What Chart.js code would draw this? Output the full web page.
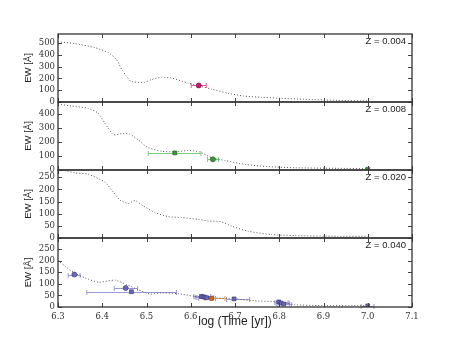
<!DOCTYPE html>
<html>
<head>
<meta charset="utf-8">
<script src="https://cdn.jsdelivr.net/npm/chart.js@4.4.1/dist/chart.umd.min.js"></script>
<style>
  html, body { margin: 0; padding: 0; background: #fff; }
  #wrap { position: relative; width: 457px; height: 343px; }
  #wrap canvas { position: absolute; left: 0; top: 0; }
</style>
</head>
<body>
<div id="wrap"></div>
<script>
// x axis (log age)
const xTicks = [6.3, 6.4, 6.5, 6.6, 6.7, 6.8, 6.9, 7.0, 7.1];

// model tracks, one per metallicity
const t004 = [6.30, 6.338, 6.383, 6.414, 6.432, 6.444, 6.455, 6.465, 6.495, 6.511, 6.534, 6.556, 6.594, 6.647, 6.684, 6.718, 6.759, 6.805, 6.857, 6.932, 7.0];
const ew004 = [509, 494, 460, 417, 360, 274, 217, 174, 166, 189, 209, 203, 160, 109, 74, 51, 40, 31, 23, 14, 9];

const t008 = [6.30, 6.331, 6.368, 6.391, 6.406, 6.425, 6.444, 6.462, 6.481, 6.502, 6.534, 6.564, 6.594, 6.62, 6.639, 6.65, 6.677, 6.722, 6.774, 6.835, 6.932, 7.0];
const ew008 = [470, 456, 440, 405, 334, 252, 259, 256, 216, 162, 134, 129, 139, 129, 99, 85, 68, 40, 24, 16, 12, 9];

const t020 = [6.315, 6.338, 6.368, 6.406, 6.425, 6.44, 6.459, 6.474, 6.492, 6.519, 6.549, 6.579, 6.617, 6.639, 6.669, 6.692, 6.729, 6.782, 6.835, 6.932, 7.0];
const ew020 = [278, 268, 263, 230, 189, 156, 142, 154, 133, 105, 88, 84, 77, 70, 67, 49, 28, 14, 10, 7, 7];

const t040 = [6.30, 6.316, 6.337, 6.361, 6.391, 6.429, 6.455, 6.481, 6.508, 6.534, 6.571, 6.609, 6.647, 6.699, 6.744, 6.799, 6.835, 6.895, 7.0];
const ew040 = [202, 176, 147, 126, 107, 116, 97, 75, 56, 61, 58, 46, 40, 35, 27, 22, 10, 6, 6];

// observed clusters: age, EW, age range
const obs004X = [6.618];
const obs004Y = [140];
const obs004Lo = [6.601];
const obs004Hi = [6.635];

const obs008SqX = [6.564, 7.0];
const obs008SqY = [122, 5];
const obs008SqLo = [6.504, 7.0];
const obs008SqHi = [6.623, 7.0];
const obs008CiX = [6.650];
const obs008CiY = [76];
const obs008CiLo = [6.638];
const obs008CiHi = [6.663];

const obs040CiX = [6.337, 6.453];
const obs040CiY = [140, 82];
const obs040CiLo = [6.323, 6.427];
const obs040CiHi = [6.350, 6.480];
const obs040SqX = [6.466, 6.624, 6.628, 6.632, 6.636, 6.698, 6.799, 6.804, 6.810, 7.0];
const obs040SqY = [66, 46, 44, 42, 40, 35, 22, 17, 13, 5];
const obs040SqLo = [6.365, 6.607, 6.610, 6.614, 6.618, 6.681, 6.790, 6.793, 6.797, 6.985];
const obs040SqHi = [6.568, 6.645, 6.648, 6.652, 6.656, 6.733, 6.820, 6.823, 6.827, 7.014];
const obs040OrX = [6.647];
const obs040OrY = [37];
const obs040OrLo = [6.632];
const obs040OrHi = [6.677];

const zLabels = ['Z = 0.004', 'Z = 0.008', 'Z = 0.020', 'Z = 0.040'];
const yMaxes = [575, 485, 280, 298];
const ySteps = [100, 100, 50, 50];

const panelEdges = [34, 102, 170, 238, 306];

const TICK_FONT = { family: '"DejaVu Serif", serif', size: 8.5 };
const wrap = document.getElementById('wrap');

function pts(xs, ys) {
    return xs.map((x, i) => ({ x: x, y: ys[i] }));
}

function track(xs, ys) {
    return {
        data: pts(xs, ys),
        showLine: true,
        pointRadius: 0,
        borderColor: '#555',
        borderWidth: 1,
        borderDash: [1, 2],
        tension: 0.2,
        order: 2
    };
}

function obs(xs, ys, lo, hi, style, fill, edge, err) {
    return {
        data: pts(xs, ys),
        showLine: false,
        pointStyle: style,
        pointRadius: style === 'rect' ? 2.7 : 2.5,
        backgroundColor: fill,
        borderColor: edge,
        borderWidth: 0.7,
        errLo: lo,
        errHi: hi,
        errColor: err,
        order: 0
    };
}

const panelData = [
    [track(t004, ew004),
     obs(obs004X, obs004Y, obs004Lo, obs004Hi, 'circle', '#c8186e', '#7a0c42', '#e0609a')],
    [track(t008, ew008),
     obs(obs008SqX, obs008SqY, obs008SqLo, obs008SqHi, 'rect', '#3a9a3a', '#1d5e1d', '#7acc7a'),
     obs(obs008CiX, obs008CiY, obs008CiLo, obs008CiHi, 'circle', '#3a9a3a', '#1d5e1d', '#7acc7a')],
    [track(t020, ew020)],
    [track(t040, ew040),
     obs(obs040CiX, obs040CiY, obs040CiLo, obs040CiHi, 'circle', '#6b68b5', '#3c3a80', '#9a98d8'),
     obs(obs040SqX, obs040SqY, obs040SqLo, obs040SqHi, 'rect', '#6b68b5', '#3c3a80', '#9a98d8'),
     obs(obs040OrX, obs040OrY, obs040OrLo, obs040OrHi, 'rect', '#d2691e', '#8a4010', '#e8a060')]
];

// horizontal age-range bars under the markers
const errorBars = {
    id: 'errorBars',
    beforeDatasetsDraw(chart) {
        const ctx = chart.ctx;
        const xs = chart.scales.x, ys = chart.scales.y;
        ctx.save();
        ctx.lineWidth = 1;
        chart.data.datasets.forEach(ds => {
            if (!ds.errLo) return;
            ctx.strokeStyle = ds.errColor;
            ds.data.forEach((p, i) => {
                const y = Math.round(ys.getPixelForValue(p.y)) + 0.5;
                const a = xs.getPixelForValue(ds.errLo[i]);
                const b = xs.getPixelForValue(ds.errHi[i]);
                if (b - a < 1) return;
                ctx.beginPath();
                ctx.moveTo(a, y); ctx.lineTo(b, y);
                ctx.moveTo(a, y - 2.5); ctx.lineTo(a, y + 2.5);
                ctx.moveTo(b, y - 2.5); ctx.lineTo(b, y + 2.5);
                ctx.stroke();
            });
        });
        ctx.restore();
    }
};

// box, inward ticks on all sides, metallicity label
const frame = {
    id: 'frame',
    afterDraw(chart, args, opts) {
        const ctx = chart.ctx;
        const a = chart.chartArea;
        const xs = chart.scales.x, ys = chart.scales.y;
        ctx.save();
        ctx.strokeStyle = '#444';
        ctx.lineWidth = 1;
        ctx.beginPath();
        xs.ticks.forEach(t => {
            const x = Math.round(xs.getPixelForValue(t.value)) + 0.5;
            ctx.moveTo(x, a.bottom); ctx.lineTo(x, a.bottom - 4);
            ctx.moveTo(x, a.top); ctx.lineTo(x, a.top + 4);
        });
        ys.ticks.forEach(t => {
            const y = Math.round(ys.getPixelForValue(t.value)) + 0.5;
            ctx.moveTo(a.left, y); ctx.lineTo(a.left + 4, y);
            ctx.moveTo(a.right, y); ctx.lineTo(a.right - 4, y);
        });
        ctx.stroke();
        ctx.strokeStyle = '#333';
        ctx.lineWidth = 1.3;
        ctx.strokeRect(a.left, a.top, a.right - a.left, a.bottom - a.top);
        ctx.fillStyle = '#222';
        ctx.font = '9.5px "Liberation Sans", Arial, sans-serif';
        ctx.textAlign = 'right';
        ctx.textBaseline = 'middle';
        ctx.fillText(opts.label, a.right - 6, a.top + 7);
        ctx.restore();
    }
};

zLabels.forEach((label, idx) => {
    const canvas = document.createElement('canvas');
    canvas.width = 457;
    canvas.height = 343;
    wrap.appendChild(canvas);
    const isBottom = idx === 3;
    const top = panelEdges[idx];
    const bottom = panelEdges[idx + 1];
    const step = ySteps[idx];

    new Chart(canvas, {
        type: 'scatter',
        data: { datasets: panelData[idx] },
        options: {
            responsive: false,
            animation: false,
            layout: { padding: { left: 0, right: 45, top: top, bottom: isBottom ? 10 : 343 - bottom } },
            plugins: {
                legend: { display: false },
                tooltip: { enabled: false },
                frame: { label: label }
            },
            scales: {
                x: {
                    type: 'linear',
                    min: 6.3,
                    max: 7.1,
                    afterBuildTicks: s => { s.ticks = xTicks.map(v => ({ value: v })); },
                    afterFit: s => { s.height = isBottom ? 26 : 0; },
                    grid: { display: false, drawTicks: false },
                    border: { display: false },
                    ticks: {
                        display: isBottom,
                        autoSkip: false,
                        maxRotation: 0,
                        padding: 5,
                        color: '#333',
                        font: TICK_FONT,
                        callback: v => v.toFixed(1)
                    },
                    title: {
                        display: true && isBottom,
                        text: 'log (Time [yr])',
                        color: '#222',
                        padding: { top: 0, bottom: 4 },
                        font: { family: '"Liberation Sans", Arial, sans-serif', size: 12 }
                    }
                },
                y: {
                    min: 0,
                    max: yMaxes[idx],
                    afterBuildTicks: s => {
                        const list = [];
                        for (let v = 0; v <= yMaxes[idx]; v += step) list.push({ value: v });
                        s.ticks = list;
                    },
                    afterFit: s => { s.width = 58; },
                    grid: { display: false, drawTicks: false },
                    border: { display: false },
                    ticks: {
                        autoSkip: false,
                        padding: 3,
                        color: '#333',
                        font: TICK_FONT
                    },
                    title: {
                        display: true,
                        text: 'EW [Å]',
                        color: '#222',
                        padding: { top: 23, bottom: 0 },
                        font: { family: '"Liberation Sans", Arial, sans-serif', size: 9.5 }
                    }
                }
            }
        },
        plugins: [errorBars, frame]
    });
});
</script>
</body>
</html>
